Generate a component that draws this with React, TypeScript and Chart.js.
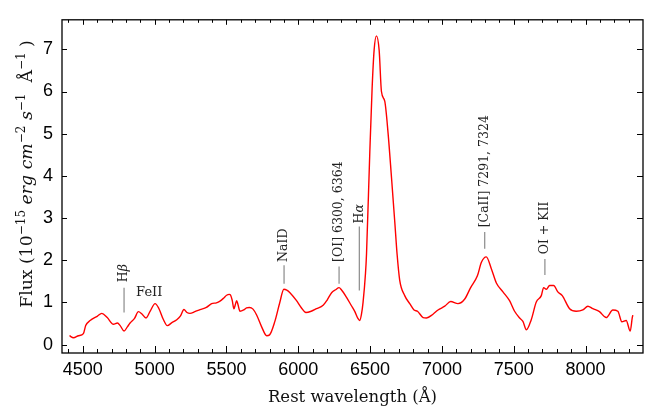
import React, { useEffect, useRef } from "react";
import { Chart, registerables } from "chart.js";

Chart.register(...registerables);

const wavelength = [
  4407, 4435, 4470, 4504, 4520, 4551, 4600, 4632, 4670, 4713, 4741, 4760, 4787, 4810, 4829, 4860,
  4887, 4910, 4940, 4970, 5003, 5030, 5060, 5088, 5120, 5154, 5180, 5204, 5225, 5246, 5280, 5316,
  5360, 5397, 5430, 5455, 5480, 5501, 5520, 5529, 5540, 5552, 5562, 5571, 5580, 5594, 5620, 5640,
  5659, 5685, 5710, 5745, 5780, 5800, 5837, 5870, 5900, 5920, 5942, 5988, 6020, 6053, 6090, 6127,
  6173, 6200, 6232, 6260, 6284, 6300, 6336, 6370, 6394, 6415, 6428, 6440, 6451, 6468, 6475, 6498,
  6514, 6528, 6544, 6563, 6579, 6602, 6625, 6649, 6672, 6688, 6706, 6741, 6776, 6806, 6830, 6869,
  6892, 6938, 6973, 7020, 7061, 7112, 7159, 7200, 7247, 7275, 7309, 7344, 7379, 7425, 7471, 7506,
  7541, 7564, 7588, 7622, 7657, 7692, 7708, 7727, 7750, 7778, 7807, 7838, 7889, 7935, 7981, 8016,
  8051, 8097, 8144, 8190, 8225, 8253, 8283, 8311, 8325, 8329,
];
const flux = [
  0.21, 0.16, 0.21, 0.26, 0.45, 0.57, 0.67, 0.74, 0.64, 0.48, 0.51, 0.45, 0.32, 0.42, 0.51, 0.62,
  0.78, 0.73, 0.63, 0.8, 0.97, 0.85, 0.6, 0.45, 0.52, 0.59, 0.68, 0.83, 0.76, 0.74, 0.78, 0.83,
  0.88, 0.97, 0.99, 1.03, 1.1, 1.17, 1.19, 1.17, 1.05, 0.85, 0.95, 1.04, 0.95, 0.79, 0.82, 0.87,
  0.88, 0.84, 0.7, 0.42, 0.21, 0.23, 0.55, 0.98, 1.31, 1.29, 1.23, 1.04, 0.88, 0.76, 0.79, 0.85,
  0.93, 1.05, 1.23, 1.3, 1.35, 1.3, 1.12, 0.92, 0.78, 0.62, 0.57, 0.72, 1.0, 1.69, 2.14, 4.56,
  6.07, 6.98, 7.32, 6.98, 6.0, 5.77, 5.02, 3.96, 2.9, 2.14, 1.53, 1.16, 0.97, 0.82, 0.79, 0.64,
  0.63, 0.72, 0.82, 0.91, 1.02, 0.97, 1.08, 1.35, 1.63, 1.95, 2.08, 1.8, 1.46, 1.25, 1.04, 0.79,
  0.63, 0.55, 0.35, 0.59, 1.01, 1.16, 1.35, 1.31, 1.4, 1.4, 1.25, 1.16, 0.85, 0.79, 0.82, 0.91,
  0.85, 0.78, 0.64, 0.82, 0.79, 0.54, 0.57, 0.32, 0.63, 0.7,
];

const xTicks = [4500, 5000, 5500, 6000, 6500, 7000, 7500, 8000];
const yTicks = [0, 1, 2, 3, 4, 5, 6, 7];

// Line identifications: wavelength, line bottom, line top, text start (flux units)
const lineLabels = [
  { text: [["H", false], ["β", true]], wl: 4787, y0: 0.76, y1: 1.35, ty: 1.48 },
  { text: [["NaID", false]], wl: 5901, y0: 1.44, y1: 1.88, ty: 1.96 },
  { text: [["[OI] 6300, 6364", false]], wl: 6284, y0: 1.44, y1: 1.85, ty: 1.96 },
  { text: [["H", false], ["α", true]], wl: 6425, y0: 1.28, y1: 2.8, ty: 2.87 },
  { text: [["[CaII] 7291, 7324", false]], wl: 7298, y0: 2.27, y1: 2.67, ty: 2.78 },
  { text: [["OI + KII", false]], wl: 7717, y0: 1.65, y1: 2.03, ty: 2.14 },
];
const feLabel = { text: "FeII", wl: 4871, y: 1.22 };

const SERIF = "'DejaVu Serif', serif";
const SANS = "'Liberation Sans', Arial, sans-serif";

const decor = {
  id: "decor",
  afterDraw(chart: any) {
    const { ctx, chartArea: a, scales } = chart;
    const xs = scales.x;
    const ys = scales.y;
    ctx.save();
    // frame
    ctx.strokeStyle = "#000";
    ctx.lineWidth = 1.3;
    ctx.strokeRect(a.left, a.top, a.right - a.left, a.bottom - a.top);
    // x ticks
    ctx.lineWidth = 1;
    for (let v = 4400; v <= 8400; v += 100) {
      const px = Math.round(xs.getPixelForValue(v)) + 0.5;
      if (px < a.left || px > a.right) continue;
      const major = v % 500 === 0;
      const lb = major ? 7 : 4;
      const lt = major ? 5 : 3;
      ctx.beginPath();
      ctx.moveTo(px, a.bottom);
      ctx.lineTo(px, a.bottom - lb);
      ctx.moveTo(px, a.top);
      ctx.lineTo(px, a.top + lt);
      ctx.stroke();
    }
    for (const v of yTicks) {
      const py = Math.round(ys.getPixelForValue(v)) + 0.5;
      ctx.beginPath();
      ctx.moveTo(a.left, py);
      ctx.lineTo(a.left + 5, py);
      ctx.moveTo(a.right, py);
      ctx.lineTo(a.right - 6, py);
      ctx.stroke();
    }
    // line identifications
    for (const l of lineLabels) {
      const px = xs.getPixelForValue(l.wl);
      ctx.strokeStyle = "#8a8a8a";
      ctx.lineWidth = 1.2;
      ctx.beginPath();
      ctx.moveTo(px, ys.getPixelForValue(l.y0));
      ctx.lineTo(px, ys.getPixelForValue(l.y1));
      ctx.stroke();
      ctx.save();
      ctx.translate(px, ys.getPixelForValue(l.ty));
      ctx.rotate(-Math.PI / 2);
      ctx.fillStyle = "#222";
      ctx.textBaseline = "middle";
      ctx.textAlign = "left";
      let x = 0;
      for (const [t, it] of l.text as any) {
        ctx.font = (it ? "italic " : "") + "12.5px " + SERIF;
        ctx.fillText(t, x, 0);
        x += ctx.measureText(t).width;
      }
      ctx.restore();
    }
    ctx.fillStyle = "#222";
    ctx.font = "13px " + SERIF;
    ctx.textBaseline = "middle";
    ctx.textAlign = "left";
    ctx.fillText(feLabel.text, xs.getPixelForValue(feLabel.wl), ys.getPixelForValue(feLabel.y));

    // x title
    ctx.fillStyle = "#111";
    ctx.font = "16.5px " + SERIF;
    ctx.textAlign = "center";
    ctx.textBaseline = "alphabetic";
    ctx.fillText("Rest wavelength (Å)", (a.left + a.right) / 2 + 0, 402);

    // y title
    const segs: [string, string, number][] = [
      ["Flux (10", "n", 0],
      ["−15", "s", 0],
      [" ", "n", 0],
      ["erg cm", "i", 0],
      ["−2", "s", 0],
      [" s", "i", 0],
      ["−1", "s", 0],
      ["  Å", "n", 0],
      ["−1", "s", 0],
      [" )", "n", 0],
    ];
    const fontFor = (k: string) =>
      k === "s" ? "12px " + SERIF : k === "i" ? "italic 17.3px " + SERIF : "17.3px " + SERIF;
    let total = 0;
    for (const s of segs) {
      ctx.font = fontFor(s[1]);
      s[2] = ctx.measureText(s[0]).width;
      total += s[2];
    }
    ctx.save();
    ctx.translate(32, 174);
    ctx.rotate(-Math.PI / 2);
    ctx.textAlign = "left";
    ctx.textBaseline = "alphabetic";
    let cx = -total / 2;
    for (const s of segs) {
      ctx.font = fontFor(s[1]);
      ctx.fillText(s[0], cx, s[1] === "s" ? -7.5 : 0);
      cx += s[2];
    }
    ctx.restore();
    ctx.restore();
  },
};

export default function App() {
  const ref = useRef<HTMLCanvasElement>(null);
  useEffect(() => {
    if (!ref.current) return;
    const chart = new Chart(ref.current, {
      type: "line",
      data: {
        datasets: [
          {
            data: wavelength.map((w, i) => ({ x: w, y: flux[i] })),
            borderColor: "#ff0000",
            borderWidth: 1.4,
            pointRadius: 0,
            cubicInterpolationMode: "monotone",
            fill: false,
          },
        ],
      },
      options: {
        animation: false,
        responsive: false,
        maintainAspectRatio: false,
        layout: { padding: { left: 0, top: 5, right: 19, bottom: 0 } },
        plugins: { legend: { display: false }, tooltip: { enabled: false } },
        scales: {
          x: {
            type: "linear",
            min: 4355,
            max: 8400,
            grid: { display: false, drawTicks: false },
            border: { display: false },
            afterBuildTicks: (s: any) => {
              s.ticks = xTicks.map((v) => ({ value: v }));
            },
            afterFit: (s: any) => {
              s.height = 57;
            },
            ticks: {
              padding: 6,
              color: "#000",
              maxRotation: 0,
              font: { family: SANS, size: 18 },
              callback: (v: any) => String(v),
            },
          },
          y: {
            type: "linear",
            min: -0.2,
            max: 7.7,
            grid: { display: false, drawTicks: false },
            border: { display: false },
            afterBuildTicks: (s: any) => {
              s.ticks = yTicks.map((v) => ({ value: v }));
            },
            afterFit: (s: any) => {
              s.width = 62;
            },
            ticks: {
              padding: 9,
              color: "#000",
              font: { family: SANS, size: 18 },
              callback: (v: any) => String(v),
            },
          },
        },
      },
      plugins: [decor],
    } as any);
    return () => chart.destroy();
  }, []);
  return (
    <div style={{ position: "absolute", left: 0, top: 0, width: 662, height: 410, background: "#fff" }}>
      <canvas ref={ref} width={662} height={410} />
    </div>
  );
}
